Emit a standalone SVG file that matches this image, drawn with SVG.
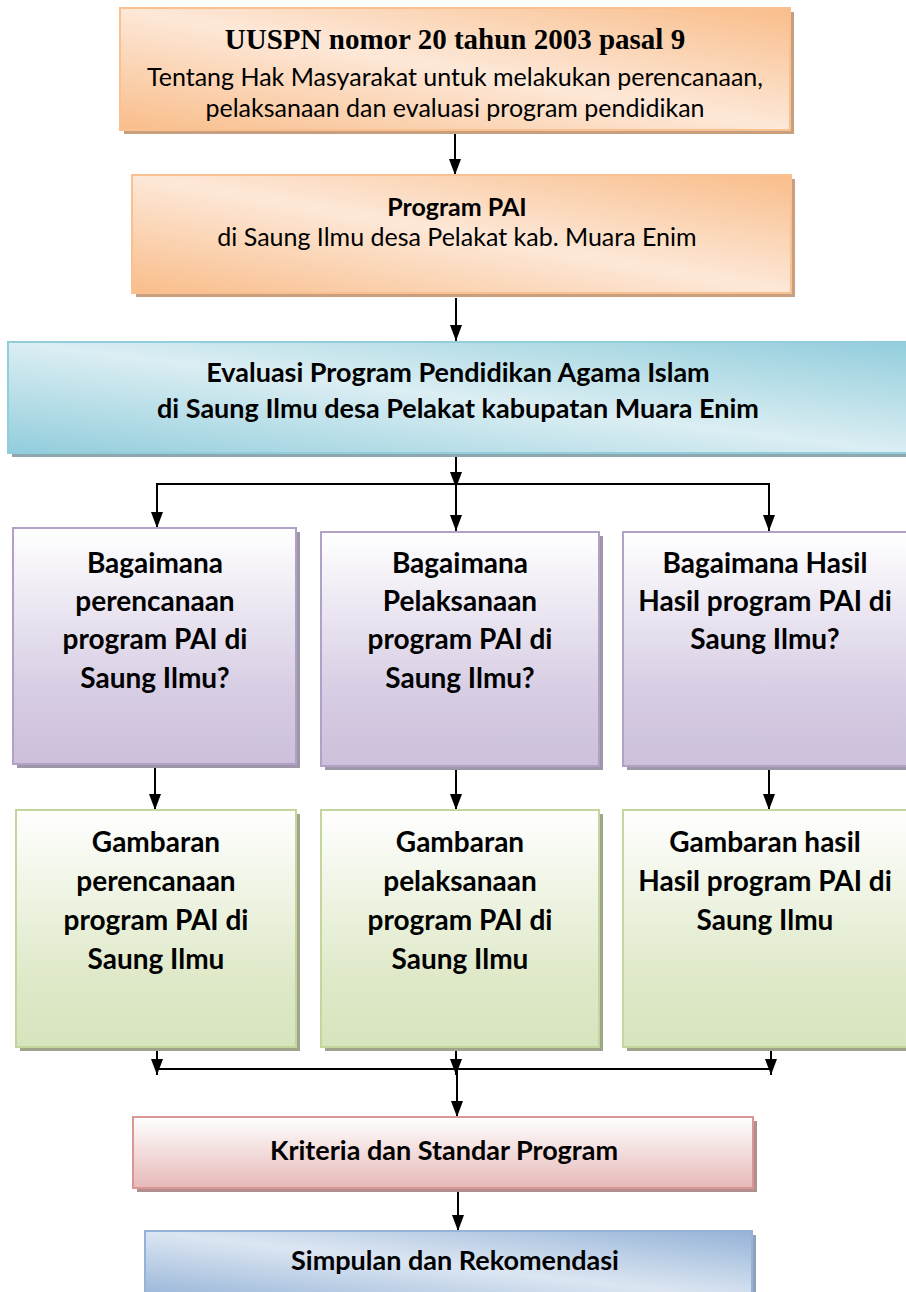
<svg xmlns="http://www.w3.org/2000/svg" width="906" height="1292" viewBox="0 0 906 1292">
<defs>
<linearGradient id="gOrange" x1="1" y1="0" x2="0" y2="1"><stop offset="0" stop-color="#f9bd8a"/><stop offset="0.5" stop-color="#fde8d8"/><stop offset="1" stop-color="#f9bd8a"/></linearGradient>
<linearGradient id="gTeal" x1="1" y1="0" x2="0" y2="1"><stop offset="0" stop-color="#92cddc"/><stop offset="0.5" stop-color="#dbeef3"/><stop offset="1" stop-color="#92cddc"/></linearGradient>
<linearGradient id="gPurple" x1="0" y1="0" x2="0" y2="1"><stop offset="0" stop-color="#ffffff"/><stop offset="0.7" stop-color="#d6cce3"/><stop offset="1" stop-color="#ccc0da"/></linearGradient>
<linearGradient id="gGreen" x1="0" y1="0" x2="0" y2="1"><stop offset="0" stop-color="#ffffff"/><stop offset="0.7" stop-color="#dfe9c9"/><stop offset="1" stop-color="#d7e4bd"/></linearGradient>
<linearGradient id="gPink" x1="0" y1="0" x2="0" y2="1"><stop offset="0" stop-color="#ffffff"/><stop offset="1" stop-color="#e6b9b8"/></linearGradient>
<linearGradient id="gBlue" x1="1" y1="0" x2="0" y2="1"><stop offset="0" stop-color="#95b3d7"/><stop offset="0.5" stop-color="#dce6f2"/><stop offset="1" stop-color="#95b3d7"/></linearGradient>
<marker id="ah" viewBox="0 0 16 12" refX="16" refY="6" markerWidth="16" markerHeight="12" markerUnits="userSpaceOnUse" orient="auto"><path d="M0,0 L16,6 L0,12 Z" fill="#000"/></marker>
</defs>
<style>
.t{font-family:Lato,"Open Sans","Liberation Sans",sans-serif;fill:#000;text-anchor:middle}
.b{font-weight:bold}
.ser{font-family:"Liberation Serif","Times New Roman",serif;font-weight:bold;fill:#000;text-anchor:middle}
.c{stroke:#000;stroke-width:2;fill:none}
.ca{stroke:#000;stroke-width:2;fill:none;marker-end:url(#ah)}
</style>
<rect width="906" height="1292" fill="#fff"/>

<g id="connectors">
<line class="ca" x1="455" y1="134" x2="455" y2="175"/>
<line class="ca" x1="456" y1="298" x2="456" y2="341"/>
<line class="ca" x1="456" y1="456" x2="456" y2="488"/>
<line class="c" x1="156" y1="484" x2="770" y2="484"/>
<line class="ca" x1="157" y1="484" x2="157" y2="528"/>
<line class="ca" x1="456" y1="484" x2="456" y2="531"/>
<line class="ca" x1="769" y1="484" x2="769" y2="531"/>
<line class="ca" x1="155" y1="767" x2="155" y2="810"/>
<line class="ca" x1="456" y1="770" x2="456" y2="810"/>
<line class="ca" x1="769" y1="770" x2="769" y2="810"/>
<line class="c" x1="157" y1="1069" x2="771" y2="1069"/>
<line class="ca" x1="157" y1="1049" x2="157" y2="1075"/>
<line class="ca" x1="456" y1="1049" x2="456" y2="1075"/>
<line class="ca" x1="771" y1="1049" x2="771" y2="1075"/>
<line class="ca" x1="457" y1="1069" x2="457" y2="1117"/>
<line class="ca" x1="458" y1="1190" x2="458" y2="1231"/>
</g>

<g id="n1">
<rect x="124" y="12" width="670" height="122" fill="#c9a07f"/>
<rect x="120" y="8" width="670" height="122" fill="url(#gOrange)" stroke="#fac090" stroke-width="2"/>
<text class="ser" x="455" y="49" font-size="29">UUSPN nomor 20 tahun 2003 pasal 9</text>
<text class="t" x="455" y="86" font-size="25">Tentang Hak Masyarakat untuk melakukan perencanaan,</text>
<text class="t" x="455" y="117" font-size="25">pelaksanaan dan evaluasi program pendidikan</text>
</g>

<g id="n2">
<rect x="136" y="179" width="659" height="118" fill="#c9a07f"/>
<rect x="132" y="175" width="659" height="118" fill="url(#gOrange)" stroke="#fac090" stroke-width="2"/>
<text class="t b" x="457" y="216" font-size="25">Program PAI</text>
<text class="t" x="457" y="246" font-size="25">di Saung Ilmu desa Pelakat kab. Muara Enim</text>
</g>

<g id="n3">
<rect x="12" y="346" width="900" height="111" fill="#8fa8b0"/>
<rect x="8" y="342" width="902" height="111" fill="url(#gTeal)" stroke="#92cddc" stroke-width="2"/>
<text class="t b" x="458" y="382" font-size="27">Evaluasi Program Pendidikan Agama Islam</text>
<text class="t b" x="458" y="418" font-size="27">di Saung Ilmu desa Pelakat kabupatan Muara Enim</text>
</g>

<g id="n4">
<rect x="17" y="532" width="283" height="236" fill="#9e97a8"/>
<rect x="13" y="528" width="283" height="236" fill="url(#gPurple)" stroke="#b2a1c7" stroke-width="2"/>
<text class="t b" font-size="28"><tspan x="155" y="573">Bagaimana</tspan><tspan x="155" y="611">perencanaan</tspan><tspan x="155" y="649">program PAI di</tspan><tspan x="155" y="688">Saung Ilmu?</tspan></text>
</g>

<g id="n5">
<rect x="325" y="536" width="278" height="234" fill="#9e97a8"/>
<rect x="321" y="532" width="278" height="234" fill="url(#gPurple)" stroke="#b2a1c7" stroke-width="2"/>
<text class="t b" font-size="28"><tspan x="460" y="573">Bagaimana</tspan><tspan x="460" y="611">Pelaksanaan</tspan><tspan x="460" y="649">program PAI di</tspan><tspan x="460" y="688">Saung Ilmu?</tspan></text>
</g>

<g id="n6">
<rect x="627" y="536" width="283" height="234" fill="#9e97a8"/>
<rect x="623" y="532" width="285" height="234" fill="url(#gPurple)" stroke="#b2a1c7" stroke-width="2"/>
<text class="t b" font-size="28"><tspan x="765" y="573">Bagaimana Hasil</tspan><tspan x="765" y="611">Hasil program PAI di</tspan><tspan x="765" y="649">Saung Ilmu?</tspan></text>
</g>

<g id="n7">
<rect x="20" y="814" width="280" height="237" fill="#9ea58a"/>
<rect x="16" y="810" width="280" height="237" fill="url(#gGreen)" stroke="#c3d69b" stroke-width="2"/>
<text class="t b" font-size="28"><tspan x="156" y="852">Gambaran</tspan><tspan x="156" y="891">perencanaan</tspan><tspan x="156" y="930">program PAI di</tspan><tspan x="156" y="969">Saung Ilmu</tspan></text>
</g>

<g id="n8">
<rect x="325" y="814" width="278" height="237" fill="#9ea58a"/>
<rect x="321" y="810" width="278" height="237" fill="url(#gGreen)" stroke="#c3d69b" stroke-width="2"/>
<text class="t b" font-size="28"><tspan x="460" y="852">Gambaran</tspan><tspan x="460" y="891">pelaksanaan</tspan><tspan x="460" y="930">program PAI di</tspan><tspan x="460" y="969">Saung Ilmu</tspan></text>
</g>

<g id="n9">
<rect x="627" y="814" width="283" height="237" fill="#9ea58a"/>
<rect x="623" y="810" width="285" height="237" fill="url(#gGreen)" stroke="#c3d69b" stroke-width="2"/>
<text class="t b" font-size="28"><tspan x="765" y="852">Gambaran hasil</tspan><tspan x="765" y="891">Hasil program PAI di</tspan><tspan x="765" y="930">Saung Ilmu</tspan></text>
</g>

<g id="n10">
<rect x="137" y="1121" width="620" height="71" fill="#b08f8e"/>
<rect x="133" y="1117" width="620" height="71" fill="url(#gPink)" stroke="#d99694" stroke-width="2"/>
<text class="t b" x="444" y="1160" font-size="27">Kriteria dan Standar Program</text>
</g>

<g id="n11">
<rect x="149" y="1235" width="607" height="70" fill="#8ea2ba"/>
<rect x="145" y="1231" width="607" height="70" fill="url(#gBlue)" stroke="#95b3d7" stroke-width="2"/>
<text class="t b" x="455" y="1270" font-size="27">Simpulan dan Rekomendasi</text>
</g>
</svg>
